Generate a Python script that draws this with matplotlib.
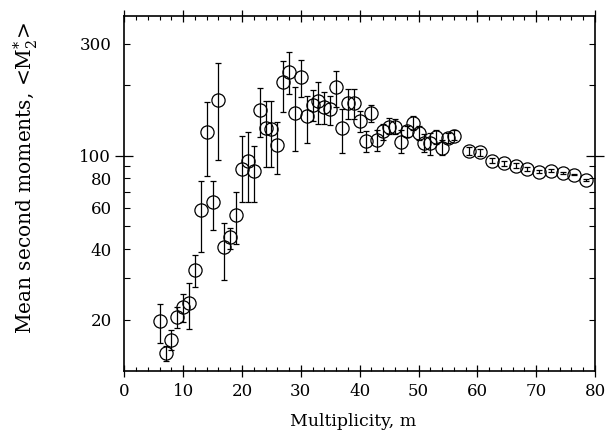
import matplotlib
matplotlib.use("Agg")
import matplotlib.pyplot as plt
from matplotlib.ticker import FixedLocator, FixedFormatter
import numpy as np

plt.rcParams['font.family'] = ['DejaVu Serif']
plt.rcParams['mathtext.fontset'] = 'custom'
plt.rcParams['mathtext.rm'] = 'DejaVu Serif'
plt.rcParams['mathtext.it'] = 'DejaVu Serif:italic'

# multiplicity bins
m = [6, 7, 8, 9, 10, 11, 12, 13, 14, 15, 16, 17, 18, 19, 20, 21, 22, 23, 24, 25,
     26, 27, 28, 29, 30, 31, 32, 33, 34, 35, 36, 37, 38, 39, 40, 41, 42, 43, 44, 45,
     46, 47, 48, 49, 50, 51, 52, 53, 54, 55, 56, 58.5, 60.5, 62.5, 64.5, 66.5, 68.5,
     70.5, 72.5, 74.5, 76.5, 78.5]
# mean second moments
val = [19.7, 14.4, 16.4, 20.5, 22.6, 23.5, 32.7, 58.8, 125.7, 63.3, 173, 40.7, 44.9, 56,
       87.8, 95, 86.4, 156.5, 130.7, 130, 111, 205, 227.7, 151.4, 217, 147, 164, 171,
       161.6, 158, 195, 131, 167.6, 167, 140, 115, 152, 116.6, 127, 133, 133, 114, 127,
       137, 125, 113, 113, 120.5, 108, 119, 121.6, 105, 103.3, 95.2, 92.7, 90.7, 87.8,
       85.5, 86.3, 84.4, 83, 78.8]
# lower ends of error bars
low = [15.9, 13.3, 14.8, 18.5, 19.5, 18.2, 27.7, 39, 81.6, 48.4, 95.9, 29.4, 40, 42,
       63.7, 63.7, 63.7, 119.6, 89, 89, 83.6, 153, 183, 105, 177, 113, 140, 136,
       136, 135, 161, 103, 143, 143, 125.7, 104, 138.6, 105, 116, 124, 124, 103, 120,
       128, 116, 104, 101, 112, 101, 113, 116, 101, 100, 93, 90.5, 88.5, 86.3,
       84, 85, 83.6, 82.3, 78.2]
# upper ends of error bars
high = [23.4, 15.4, 18.1, 22.6, 25.8, 28.7, 37.6, 78.3, 168.7, 78, 248, 51.7, 49, 70,
        121.7, 126.6, 109.5, 194, 171, 170, 138.6, 254, 275, 195, 256, 180, 190, 205,
        186, 180, 229, 158, 192, 192, 155, 127, 165, 128, 136, 145, 143, 128, 134,
        148, 134, 123, 125, 128, 116, 125, 128, 109, 106.5, 97.5, 95, 93, 89.3,
        87, 87.6, 85.2, 83.7, 79.4]

x_ticks = [0, 10, 20, 30, 40, 50, 60, 70, 80]
y_minor = [20, 30, 40, 50, 60, 70, 80, 90, 200, 300]
y_minor_labels = ['20', '', '40', '', '60', '', '80', '', '', '300']

fig = plt.figure(figsize=(6.05, 4.33), dpi=100)
ax = fig.add_axes([0.2055, 0.1432, 0.778, 0.8198])

val_a = np.array(val)
yerr = [val_a - np.array(low), np.array(high) - val_a]
ax.errorbar(m, val, yerr=yerr, fmt='o', mfc='none', mec='black', ms=9.5, mew=0.9,
            ecolor='black', elinewidth=0.9, capsize=2.2, capthick=0.9, color='black')

ax.set_yscale('log')
ax.set_xlim(0, 80)
ax.set_ylim(12.1, 393)

# x ticks
ax.xaxis.set_major_locator(FixedLocator(x_ticks))
ax.xaxis.set_minor_locator(FixedLocator(np.arange(0, 81, 2)))
ax.tick_params(axis='x', which='major', direction='inout', length=8, width=0.9,
               top=True, bottom=True, labelsize=12, pad=5)
ax.tick_params(axis='x', which='minor', direction='in', length=3, width=0.8,
               top=True, bottom=True)

# y ticks
ax.yaxis.set_major_locator(FixedLocator([100]))
ax.yaxis.set_major_formatter(FixedFormatter(['100']))
ax.yaxis.set_minor_locator(FixedLocator(y_minor))
ax.yaxis.set_minor_formatter(FixedFormatter(y_minor_labels))
ax.tick_params(axis='y', which='major', direction='inout', length=13, width=0.9,
               left=True, right=True, labelsize=12, pad=3)
ax.tick_params(axis='y', which='minor', direction='in', length=4, width=0.8,
               left=True, right=True, labelsize=12, pad=9)

for sp in ax.spines.values():
    sp.set_linewidth(1.2)

ax.set_xlabel('Multiplicity, m', fontsize=12.5)
ax.xaxis.set_label_coords(0.486, -0.118)
ax.set_ylabel(r'Mean second moments, <$\mathregular{M^{*}_{2}}$>', fontsize=14.5)
ax.yaxis.set_label_coords(-0.18, 0.545)

fig.savefig('out.png', dpi=100)
